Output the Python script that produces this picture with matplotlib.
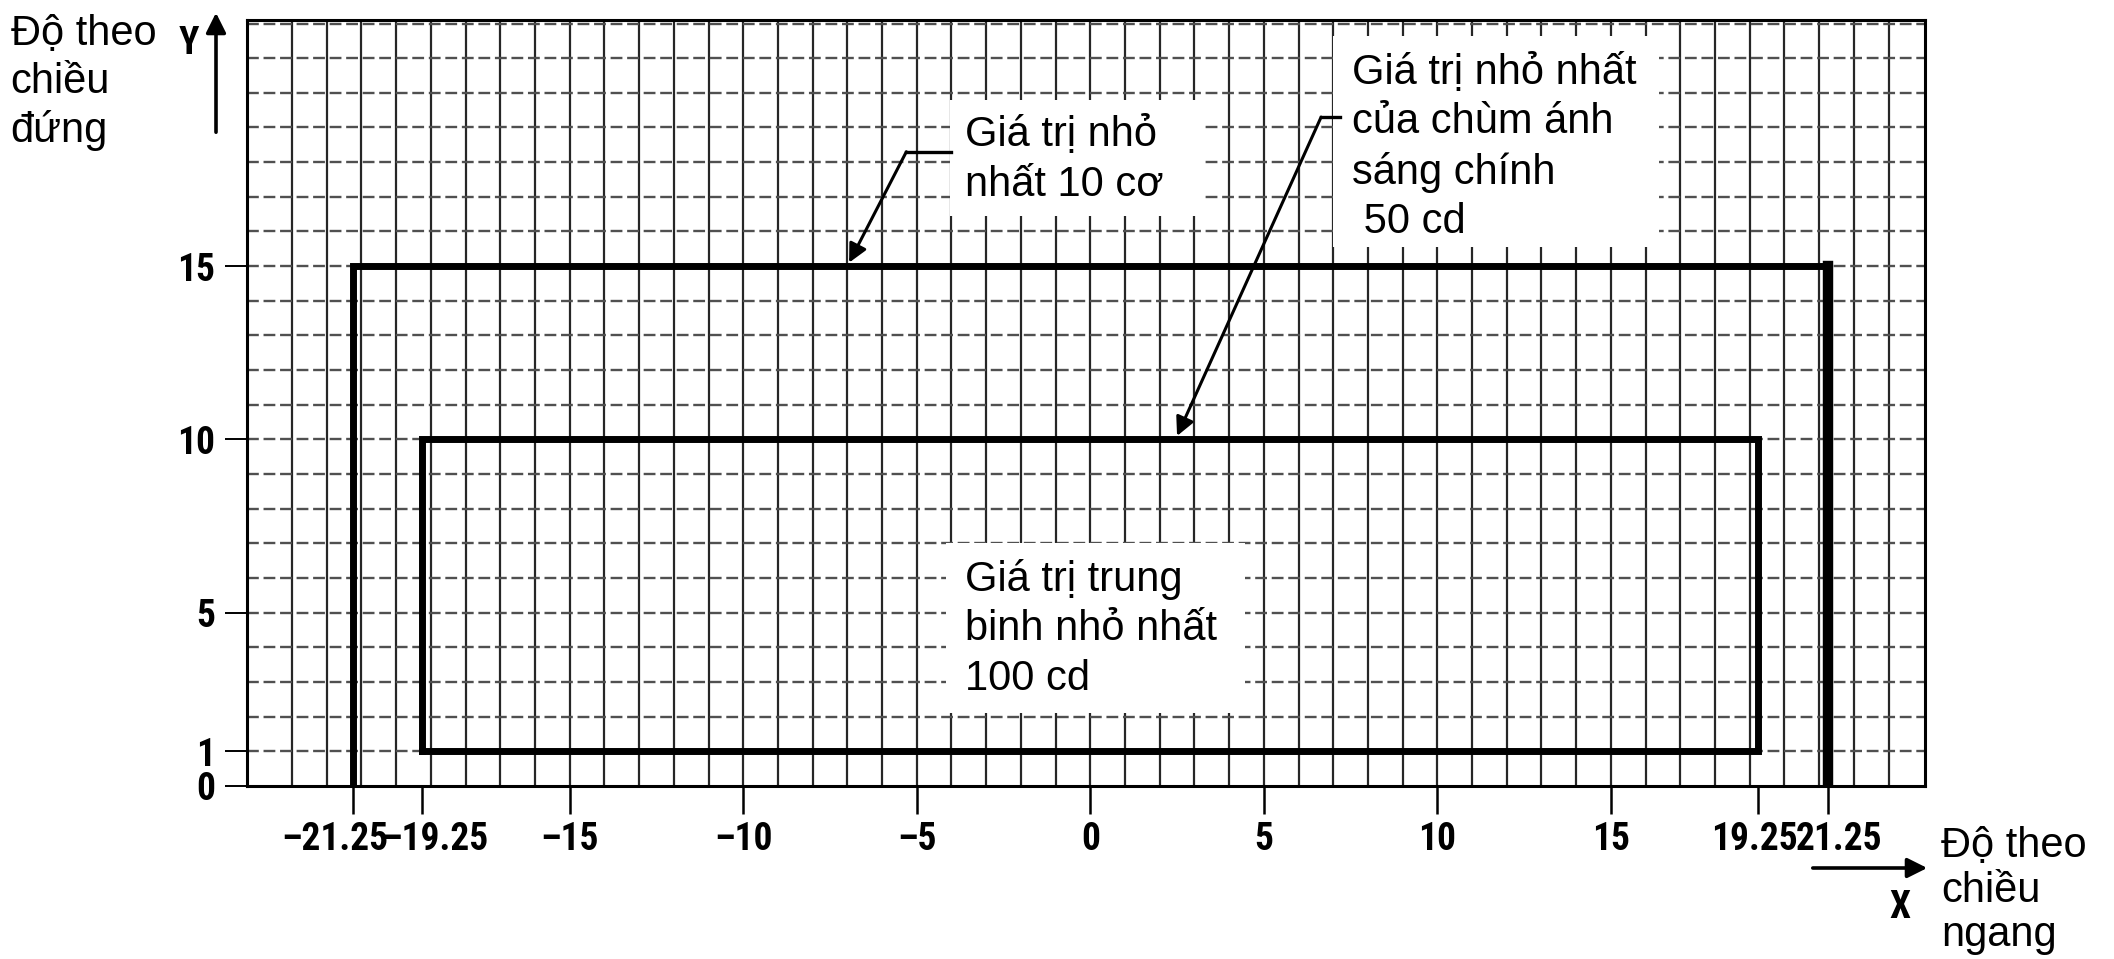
import matplotlib
matplotlib.use("Agg")
import matplotlib.pyplot as plt
from matplotlib import font_manager as fm
from matplotlib.patches import Rectangle, FancyArrowPatch
from matplotlib.transforms import ScaledTranslation
import numpy as np

# ---------------- data ----------------
x_ticks = [-21.25, -19.25, -15, -10, -5, 0, 5, 10, 15, 19.25, 21.25]
x_tick_labels = ["–21.25", "–19.25", "–15", "–10", "–5", "0", "5", "10", "15", "19.25", "21.25"]
y_ticks = [0, 1, 5, 10, 15]
y_tick_labels = ["0", "1", "5", "10", "15"]

outer_x = [-21.25, -21.25, 21.25, 21.25]
outer_y = [0, 15, 15, 0]
inner_x = [-19.25, -19.25, 19.25, 19.25, -19.25]
inner_y = [1, 10, 10, 1, 1]

label_outer = "Giá trị nhỏ\nnhất 10 cơ"
label_inner = "Giá trị nhỏ nhất\ncủa chùm ánh\nsáng chính\n 50 cd"
label_mean = "Giá trị trung\nbinh nhỏ nhất\n100 cd"
y_axis_title = "Độ theo\nchiều\nđứng"
x_axis_title = "Độ theo\nchiều\nngang"

# ---------------- fonts ----------------
def pick(fams):
    for f in fams:
        try:
            fm.findfont(fm.FontProperties(family=f), fallback_to_default=False)
            return f
        except Exception:
            pass
    return None

text_font = pick(["Liberation Sans", "Arial", "DejaVu Sans"]) or "DejaVu Sans"
narrow_font = pick(["Liberation Sans Narrow", "Roboto Condensed", "Open Sans Condensed"])
narrow_size = 27
if narrow_font is None:
    narrow_font = text_font
    narrow_size = 20

plt.rcParams["font.family"] = [text_font, "DejaVu Sans"]
TXT = 30

# ---------------- figure ----------------
fig = plt.figure(figsize=(21.14, 9.59), dpi=100)
ax = fig.add_axes([0.1168, 0.1804, 0.7938, 0.7987])
xmin, xmax, ymin, ymax = -24.3, 24.05, 0, 22.1
ax.set_xlim(xmin, xmax)
ax.set_ylim(ymin, ymax)

# grid (graph paper look)
gx = np.arange(-23, 24)
gy = np.arange(1, 23)
ax.vlines(gx, ymin, ymax, colors="#262626", linewidth=1.6, zorder=1)
ax.hlines(gy, xmin, xmax, colors="#505050", linewidth=1.7,
          linestyles=(0, (5, 2)), zorder=1)

# white patches behind the labels
for (x0, y0, w, h) in [(-4.05, 16.45, 7.3, 3.35),
                       (7.0, 15.55, 9.4, 6.1),
                       (-4.15, 2.1, 8.6, 4.9)]:
    ax.add_patch(Rectangle((x0, y0), w, h, facecolor="white", edgecolor="none", zorder=2))

# rectangles
ax.plot(outer_x, outer_y, color="black", linewidth=5, solid_joinstyle="miter", zorder=4)
ax.plot(outer_x[2:], outer_y[2:], color="black", linewidth=7.5, zorder=4)
ax.plot(inner_x, inner_y, color="black", linewidth=5, solid_joinstyle="miter", zorder=4)

# annotation texts
ax.text(-3.6, 19.35, label_outer, ha="left", va="top", fontsize=TXT, linespacing=1.3, zorder=3)
ax.text(7.55, 21.15, label_inner, ha="left", va="top", fontsize=TXT, linespacing=1.3, zorder=3)
ax.text(-3.6, 6.55, label_mean, ha="left", va="top", fontsize=TXT, linespacing=1.3, zorder=3)

arrow_kw = dict(arrowstyle="-|>", color="black", lw=2.2, mutation_scale=28,
                shrinkA=0, shrinkB=0)
ax.plot([-4.0, -5.3], [18.3, 18.3], color="black", lw=2.4, zorder=5)
ax.annotate("", xy=(-6.95, 15.1), xytext=(-5.3, 18.3), arrowprops=arrow_kw, zorder=5)
ax.plot([7.2, 6.65], [19.3, 19.3], color="black", lw=2.4, zorder=5)
ax.annotate("", xy=(2.5, 10.1), xytext=(6.65, 19.3), arrowprops=arrow_kw, zorder=5)

# axes / ticks
for s in ax.spines.values():
    s.set_linewidth(2.2)
    s.set_zorder(6)
ax.set_xticks(x_ticks)
ax.set_xticklabels(x_tick_labels, fontfamily=narrow_font, fontsize=narrow_size, fontweight="bold")
ax.set_yticks(y_ticks)
ax.set_yticklabels(y_tick_labels, fontfamily=narrow_font, fontsize=narrow_size, fontweight="bold")
ax.tick_params(axis="x", direction="out", length=20, width=1.8, pad=5)
ax.tick_params(axis="y", direction="out", length=16, width=1.4, pad=7)

# spread the crowded outer tick labels a little, as in the drawing
shift_pts = {-21.25: -13, -19.25: 9, 19.25: -3, 21.25: 8}
for tk in ax.xaxis.get_major_ticks():
    v = round(tk.get_loc(), 2)
    if v in shift_pts:
        tk.label1.set_transform(tk.label1.get_transform() +
                                ScaledTranslation(shift_pts[v] / 72, 0, fig.dpi_scale_trans))

# axis titles and arrows
fig.text(0.005, 0.985, y_axis_title, ha="left", va="top", fontsize=TXT, linespacing=1.25)
fig.text(189 / 2114, 1 - 43 / 959, "Y", ha="center", va="center",
         fontfamily=narrow_font, fontsize=narrow_size, fontweight="bold")
fig.add_artist(FancyArrowPatch(
    (216 / 2114, 1 - 135 / 959), (216 / 2114, 1 - 10 / 959),
    transform=fig.transFigure, arrowstyle="-|>", mutation_scale=30, lw=2.6, color="black"))

fig.text(1941 / 2114, 1 - 826 / 959, x_axis_title, ha="left", va="top", fontsize=TXT, linespacing=1.15)
fig.text(1900 / 2114, 1 - 908 / 959, "X", ha="center", va="center",
         fontfamily=narrow_font, fontsize=narrow_size, fontweight="bold")
fig.add_artist(FancyArrowPatch(
    (1810 / 2114, 1 - 868 / 959), (1930 / 2114, 1 - 868 / 959),
    transform=fig.transFigure, arrowstyle="-|>", mutation_scale=30, lw=2.6, color="black"))

fig.savefig("out.png", dpi=100, facecolor="white")
